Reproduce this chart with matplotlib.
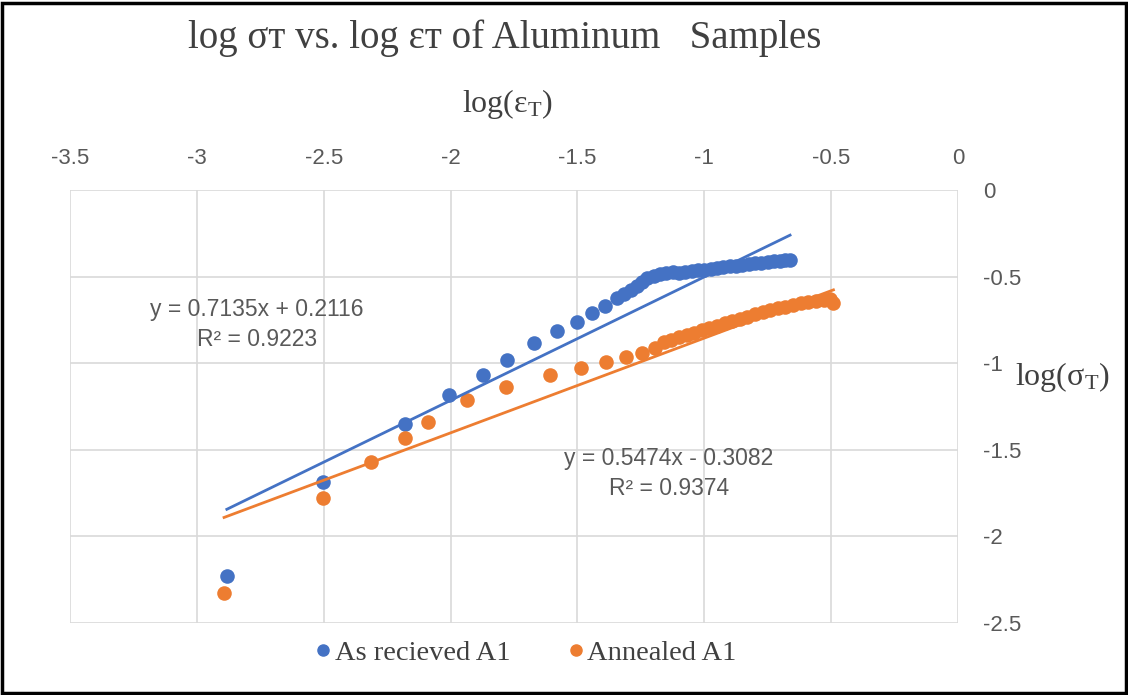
import matplotlib.pyplot as plt
from matplotlib.lines import Line2D
from matplotlib.patches import Rectangle

plt.rcParams['axes.unicode_minus'] = False
plt.rcParams['mathtext.fontset'] = 'custom'
plt.rcParams['mathtext.rm'] = 'Liberation Serif'
plt.rcParams['mathtext.it'] = 'Liberation Serif'

# log strain / log stress, as received
recv_x = [-2.882, -2.502, -2.180, -2.005, -1.873, -1.776, -1.670, -1.582, -1.503, -1.444,
          -1.390, -1.345, -1.315, -1.290, -1.265, -1.245, -1.225, -1.200, -1.175, -1.150,
          -1.125, -1.100, -1.075, -1.050, -1.025, -1.000, -0.975, -0.950, -0.925, -0.900,
          -0.875, -0.850, -0.825, -0.800, -0.775, -0.750, -0.725, -0.700, -0.680, -0.662]
recv_y = [-2.231, -1.686, -1.353, -1.185, -1.069, -0.983, -0.886, -0.813, -0.761, -0.709,
          -0.668, -0.625, -0.598, -0.575, -0.553, -0.530, -0.510, -0.495, -0.485, -0.478,
          -0.476, -0.478, -0.475, -0.470, -0.465, -0.460, -0.455, -0.450, -0.446, -0.441,
          -0.437, -0.432, -0.428, -0.424, -0.420, -0.417, -0.413, -0.410, -0.407, -0.405]

# log strain / log stress, annealed
ann_x = [-2.893, -2.504, -2.314, -2.180, -2.088, -1.936, -1.783, -1.608, -1.486, -1.387,
         -1.308, -1.247, -1.194, -1.160, -1.130, -1.100, -1.070, -1.040, -1.010, -0.980,
         -0.950, -0.920, -0.890, -0.860, -0.830, -0.800, -0.770, -0.740, -0.710, -0.680,
         -0.650, -0.620, -0.590, -0.560, -0.530, -0.505, -0.491]
ann_y = [-2.326, -1.778, -1.574, -1.430, -1.339, -1.214, -1.137, -1.069, -1.031, -0.992,
         -0.963, -0.940, -0.915, -0.877, -0.865, -0.851, -0.838, -0.824, -0.811, -0.798,
         -0.785, -0.771, -0.758, -0.745, -0.731, -0.718, -0.705, -0.694, -0.684, -0.674,
         -0.664, -0.655, -0.648, -0.641, -0.634, -0.628, -0.655]

# linear trendlines (slope, intercept, R^2)
recv_fit = (0.7135, 0.2116, 0.9223)
ann_fit = (0.5474, -0.3082, 0.9374)

x_ticks = [-3.5, -3, -2.5, -2, -1.5, -1, -0.5, 0]
y_ticks = [0, -0.5, -1, -1.5, -2, -2.5]

blue = '#4472C4'
orange = '#ED7D31'
grey = '#595959'

fig = plt.figure(figsize=(11.28, 6.95), dpi=100)
ax = fig.add_axes([0.0621, 0.1040, 0.7872, 0.6226])

ax.scatter(recv_x, recv_y, s=110, color=blue, zorder=3, linewidths=0)
ax.scatter(ann_x, ann_y, s=110, color=orange, zorder=3, linewidths=0)

for xs, (m, b, r2), c in [(recv_x, recv_fit, blue), (ann_x, ann_fit, orange)]:
    x0, x1 = min(xs), max(xs)
    ax.plot([x0, x1], [m * x0 + b, m * x1 + b], color=c, lw=2.0, zorder=4)

def eq_label(m, b, r2):
    sign = '+' if b >= 0 else '-'
    return f'y = {m:.4f}x {sign} {abs(b):.4f}\nR² = {r2:.4f}'

ax.text(-2.763, -0.775, eq_label(*recv_fit), ha='center', va='center', fontsize=16.5,
        color=grey, family='Liberation Sans', linespacing=1.4, zorder=5)
ax.text(-1.139, -1.636, eq_label(*ann_fit), ha='center', va='center', fontsize=16.5,
        color=grey, family='Liberation Sans', linespacing=1.4, zorder=5)

ax.set_xlim(-3.5, 0)
ax.set_ylim(-2.5, 0)
ax.set_xticks(x_ticks)
ax.set_yticks(y_ticks)
ax.set_xticklabels([f'{v:g}' for v in x_ticks])
ax.set_yticklabels([f'{v:g}' for v in y_ticks])
ax.xaxis.tick_top()
ax.yaxis.tick_right()
ax.tick_params(axis='x', length=0, pad=15, labelsize=16, labelcolor=grey)
ax.tick_params(axis='y', length=0, pad=18, labelsize=16, labelcolor=grey)
for lab in ax.get_xticklabels() + ax.get_yticklabels():
    lab.set_family('Liberation Sans')
ax.grid(True, color='#d9d9d9', lw=1.2)
ax.set_axisbelow(True)
for sp in ax.spines.values():
    sp.set_visible(False)

fig.text(0.447, 0.945, 'log σᴛ vs. log εᴛ of Aluminum   Samples', ha='center', va='center',
         fontsize=28, color='#404040', family=['Liberation Serif', 'DejaVu Serif'])
fig.text(0.450, 0.850, r'$\mathrm{log(ε_{T})}$', ha='center', va='center', fontsize=23,
         color='#404040')
fig.text(0.900, 0.457, r'$\mathrm{log(σ_{T})}$', ha='left', va='center', fontsize=23,
         color='#404040')

handles = [Line2D([], [], ls='', marker='o', ms=8, color=blue),
           Line2D([], [], ls='', marker='o', ms=8, color=orange)]
fig.legend(handles, ['As recieved A1', 'Annealed A1'], loc='center', ncol=2,
           bbox_to_anchor=(0.466, 0.060), frameon=False, handlelength=0.6,
           handletextpad=0.1, columnspacing=2.0,
           prop={'family': 'Liberation Serif', 'size': 20.5}, labelcolor='#404040')

fig.patches.append(Rectangle((0.002, 0.003), 0.996, 0.993, transform=fig.transFigure,
                             fill=False, edgecolor='black', lw=2.5))

fig.savefig('out.png', dpi=100)
